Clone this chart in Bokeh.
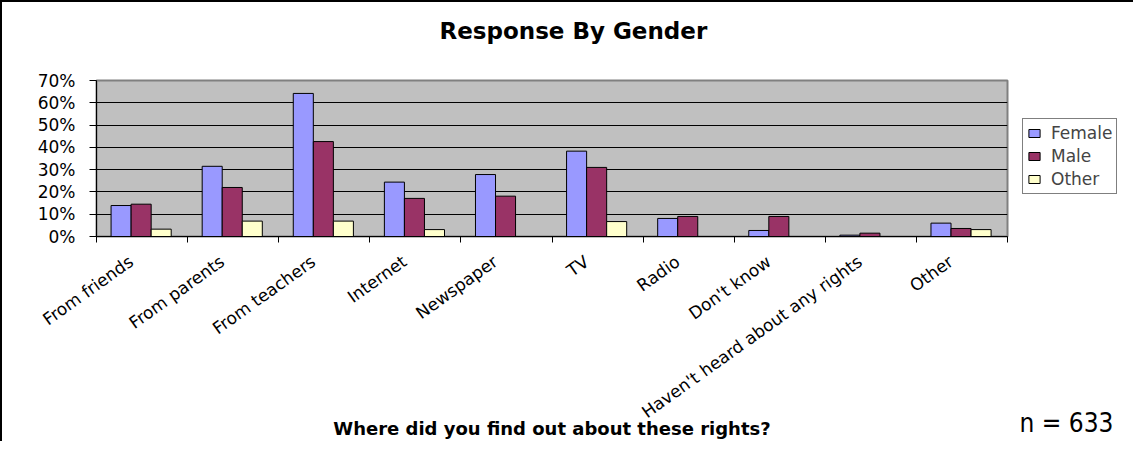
import numpy as np
from bokeh.plotting import figure
from bokeh.models import (ColumnDataSource, Range1d, FixedTicker, NumeralTickFormatter,
                          Legend, LegendItem, Title)
from bokeh.transform import dodge
from bokeh.embed import file_html
from bokeh.resources import INLINE

# ---- data ----
categories = ["From friends", "From parents", "From teachers", "Internet", "Newspaper",
              "TV", "Radio", "Don't know", "Haven't heard about any rights", "Other"]
female = [0.139, 0.315, 0.642, 0.244, 0.278, 0.383, 0.081, 0.027, 0.006, 0.060]
male = [0.145, 0.220, 0.426, 0.171, 0.181, 0.310, 0.090, 0.090, 0.015, 0.036]
other = [0.033, 0.069, 0.069, 0.031, 0.0, 0.067, 0.0, 0.0, 0.0, 0.031]
series_names = ["Female", "Male", "Other"]
y_ticks = [0.0, 0.1, 0.2, 0.3, 0.4, 0.5, 0.6, 0.7]
title_text = "Response By Gender"
x_title = "Where did you find out about these rights?"
note_text = "n = 633"

# ---- build ----
xc = [i + 0.5 for i in range(len(categories))]
src = ColumnDataSource(dict(x=xc, cat=categories, Female=female, Male=male, Other=other))

p = figure(frame_width=911, frame_height=156, output_backend="svg", toolbar_location=None,
           x_range=Range1d(0, len(categories)), y_range=Range1d(0, y_ticks[-1]),
           min_border_left=94, min_border_right=110, min_border_top=78, min_border_bottom=205)
p.styles = {"border-left": "2px solid #000", "border-top": "2px solid #000"}
p.background_fill_color = "#C0C0C0"
p.border_fill_color = "white"
p.outline_line_color = "#808080"
p.outline_line_width = 2

colors = ["#9999FF", "#993366", "#FFFFCC"]
offsets = [-0.23, -0.01, 0.21]
renderers = []
for name, col, off in zip(series_names, colors, offsets):
    r = p.vbar(x=dodge("x", off), top=name, width=0.22, source=src,
               fill_color=col, line_color="black", line_width=1)
    renderers.append(r)

# grid
p.xgrid.visible = False
p.ygrid.ticker = FixedTicker(ticks=y_ticks)
p.ygrid.grid_line_color = "black"
p.ygrid.grid_line_width = 1

# x axis: tick marks at category boundaries, labels anchored a little left of centre
label_pos = [c - 0.12 for c in xc]
xa = p.xaxis[0]
xa.ticker = FixedTicker(ticks=label_pos, minor_ticks=list(range(len(categories) + 1)))
xa.major_label_overrides = {float(x): c for x, c in zip(label_pos, categories)}
xa.axis_line_color = "black"
xa.major_tick_out = 0
xa.major_tick_in = 0
xa.minor_tick_out = 6
xa.minor_tick_in = 0
xa.minor_tick_line_color = "black"
xa.major_label_orientation = 0.62
xa.major_label_standoff = 17
xa.major_label_text_font = "DejaVu Sans"
xa.major_label_text_font_size = "17px"
xa.major_label_text_color = "black"

# y axis
ya = p.yaxis[0]
ya.ticker = FixedTicker(ticks=y_ticks)
ya.formatter = NumeralTickFormatter(format="0%")
ya.axis_line_color = "black"
ya.major_tick_out = 7
ya.major_tick_in = 0
ya.minor_tick_out = 0
ya.minor_tick_in = 0
ya.major_tick_line_color = "black"
ya.major_label_standoff = 14
ya.major_label_text_font = "DejaVu Sans"
ya.major_label_text_font_size = "17px"
ya.major_label_text_color = "black"

# legend (right side panel)
legend = Legend(items=[LegendItem(label=n, renderers=[r]) for n, r in zip(series_names, renderers)],
                location=(15, 42), orientation="vertical")
legend.border_line_color = "black"
legend.border_line_width = 1
legend.background_fill_color = "white"
legend.background_fill_alpha = 1
legend.glyph_width = 14
legend.glyph_height = 10
legend.label_text_font = "DejaVu Sans"
legend.label_text_font_size = "17px"
legend.label_height = 20
legend.padding = 4
legend.spacing = 3
legend.label_standoff = 10
legend.margin = 0
p.add_layout(legend, "right")

# texts as titles in the bottom side panel (negative standoff pulls them into place)
t_axis = Title(text=x_title, align="center", vertical_align="top", standoff=-32,
               text_font="DejaVu Sans", text_font_style="bold", text_font_size="18px",
               text_color="black")
t_note = Title(text=note_text, align="right", offset=-106, vertical_align="top", standoff=-52,
               text_font="Liberation Sans Narrow, DejaVu Sans Condensed, sans-serif",
               text_font_style="normal", text_font_size="26px", text_color="black")
t_main = Title(text=title_text, align="left", offset=343, vertical_align="top", standoff=-832,
               text_font="DejaVu Sans", text_font_style="bold", text_font_size="23px",
               text_color="black")
p.add_layout(t_axis, "below")
p.add_layout(t_note, "below")
p.add_layout(t_main, "below")

open("out.html", "w").write(file_html(p, INLINE))
